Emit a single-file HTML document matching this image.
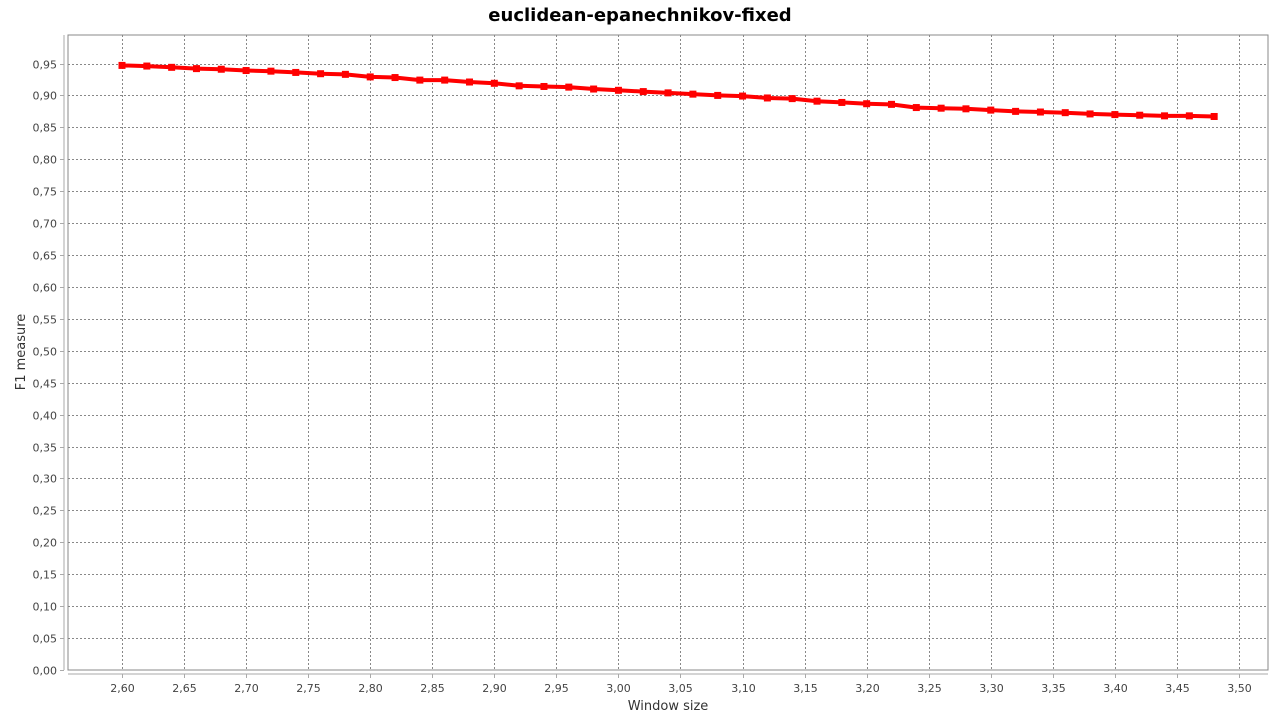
<!DOCTYPE html>
<html><head><meta charset="utf-8"><style>
body{margin:0;background:#fff;}
svg text{font-family:"DejaVu Sans","Liberation Sans",sans-serif;}
</style></head><body>
<svg id="chart" width="1280" height="720" xmlns="http://www.w3.org/2000/svg">
<text x="640" y="21" text-anchor="middle" font-size="18" font-weight="bold" fill="#000">euclidean-epanechnikov-fixed</text>
<rect x="68" y="35" width="1200" height="635" fill="#fff" stroke="#888" stroke-width="1"/>
<g id="grid"></g><g id="axes"></g><g id="series"></g>
<text x="668" y="710" text-anchor="middle" font-size="13" fill="#333">Window size</text>
<text transform="translate(25,352) rotate(-90)" text-anchor="middle" font-size="13" fill="#333">F1 measure</text>
</svg>
<script>
const xValues=[2.60,2.62,2.64,2.66,2.68,2.70,2.72,2.74,2.76,2.78,2.80,2.82,2.84,2.86,2.88,2.90,2.92,2.94,2.96,2.98,3.00,3.02,3.04,3.06,3.08,3.10,3.12,3.14,3.16,3.18,3.20,3.22,3.24,3.26,3.28,3.30,3.32,3.34,3.36,3.38,3.40,3.42,3.44,3.46,3.48];
const f1Values=[0.947,0.946,0.944,0.942,0.941,0.939,0.938,0.936,0.934,0.933,0.929,0.928,0.924,0.924,0.921,0.919,0.915,0.914,0.913,0.910,0.908,0.906,0.904,0.902,0.900,0.899,0.896,0.895,0.891,0.889,0.887,0.886,0.881,0.880,0.879,0.877,0.875,0.874,0.873,0.871,0.870,0.869,0.868,0.868,0.867];
const xTicks=[2.60,2.65,2.70,2.75,2.80,2.85,2.90,2.95,3.00,3.05,3.10,3.15,3.20,3.25,3.30,3.35,3.40,3.45,3.50];
const yTicks=[0,0.05,0.10,0.15,0.20,0.25,0.30,0.35,0.40,0.45,0.50,0.55,0.60,0.65,0.70,0.75,0.80,0.85,0.90,0.95];
const sx=v=>122+(v-2.60)/0.90*1117;
const sy=v=>670-v/0.95*606.5;
const NS="http://www.w3.org/2000/svg";
function mk(t,a,p){const e=document.createElementNS(NS,t);for(const k in a)e.setAttribute(k,a[k]);p.appendChild(e);return e;}
const grid=document.getElementById('grid'),axes=document.getElementById('axes'),ser=document.getElementById('series');
mk('line',{x1:64,y1:35,x2:64,y2:670,stroke:'#aaa'},axes);
mk('line',{x1:68,y1:674,x2:1268,y2:674,stroke:'#aaa'},axes);
xTicks.forEach(t=>{const x=Math.round(sx(t))+0.5;
 const g=mk('line',{x1:x,y1:35,x2:x,y2:670,stroke:'#888','stroke-dasharray':'2,2'},grid);
 
 mk('line',{x1:x,y1:674,x2:x,y2:678,stroke:'#aaa'},axes);
 const tx=mk('text',{x:x,y:692,'text-anchor':'middle','font-size':11,fill:'#444'},axes);
 
 tx.textContent=t.toFixed(2).replace('.',',');});
yTicks.forEach(t=>{const y=Math.round(sy(t))+0.5;
 if(t>0){const g=mk('line',{x1:68,y1:y,x2:1268,y2:y,stroke:'#888','stroke-dasharray':'2,2'},grid);
 }
 mk('line',{x1:60,y1:y,x2:64,y2:y,stroke:'#aaa'},axes);
 const tx=mk('text',{x:57,y:y+4,'text-anchor':'end','font-size':11,fill:'#444'},axes);
 
 tx.textContent=t.toFixed(2).replace('.',',');});
const pts=xValues.map((x,i)=>sx(x).toFixed(1)+','+sy(f1Values[i]).toFixed(1)).join(' ');
const pl=mk('polyline',{points:pts,fill:'none',stroke:'#f00','stroke-width':4,'stroke-linejoin':'round'},ser);

xValues.forEach((x,i)=>{const r=mk('rect',{x:sx(x)-3.5,y:sy(f1Values[i])-3.5,width:7,height:7,fill:'#f00'},ser);
 });
</script>
</body></html>
